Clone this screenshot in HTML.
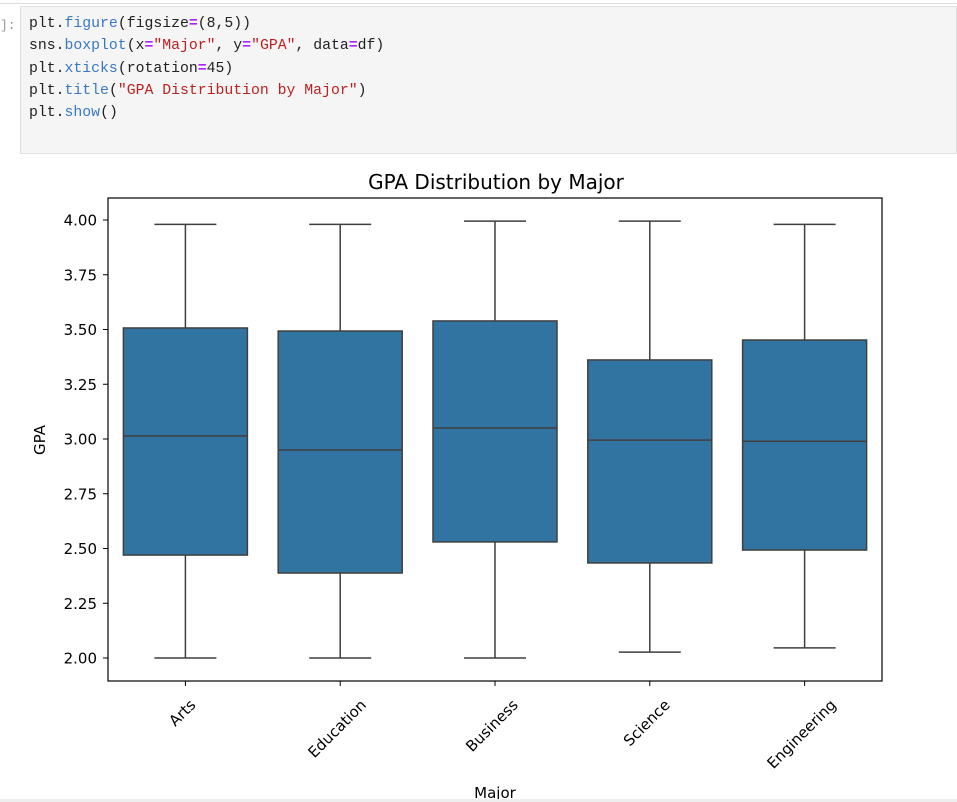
<!DOCTYPE html>
<html><head><meta charset="utf-8"><style>
body{margin:0;background:#fff;width:957px;height:802px;overflow:hidden;position:relative;font-family:"DejaVu Sans",sans-serif}
#topline{position:absolute;left:0;top:3px;width:957px;height:1px;background:#ddd}
#prompt{position:absolute;left:0;top:18px;font:13px "Liberation Mono",monospace;color:#999}
#cell{position:absolute;left:20px;top:6px;width:937px;height:148px;background:#f5f5f5;border:1px solid #e0e0e0;box-sizing:border-box}
#code{position:absolute;left:8px;top:6px;margin:0;font:14.8px/22.3px "Liberation Mono","DejaVu Sans Mono",monospace;color:#222}
.f{color:#3a78c2}.s{color:#ba2121}.o{color:#aa22ff;font-weight:bold}
#bottomline{position:absolute;left:0;top:799px;width:957px;height:3px;background:#eee}
svg{position:absolute;left:0;top:0}
svg text{font-family:"DejaVu Sans",sans-serif}
</style></head><body>
<div id="topline"></div>
<div id="prompt">]:</div>
<div id="cell"><pre id="code">plt.<span class="f">figure</span>(figsize<span class="o">=</span>(8,5))
sns.<span class="f">boxplot</span>(x<span class="o">=</span><span class="s">"Major"</span>, y<span class="o">=</span><span class="s">"GPA"</span>, data<span class="o">=</span>df)
plt.<span class="f">xticks</span>(rotation<span class="o">=</span>45)
plt.<span class="f">title</span>(<span class="s">"GPA Distribution by Major"</span>)
plt.<span class="f">show</span>()</pre></div>
<svg id="chart" width="957" height="802"></svg>
<div id="bottomline"></div>
<script>
const categories=["Arts","Education","Business","Science","Engineering"];
const whiskLow=[2.00,2.00,2.00,2.027,2.046];
const q1=[2.47,2.388,2.53,2.434,2.493];
const median=[3.014,2.95,3.05,2.995,2.99];
const q3=[3.507,3.493,3.539,3.361,3.452];
const whiskHigh=[3.98,3.98,3.995,3.995,3.98];
const yTicks=["2.00","2.25","2.50","2.75","3.00","3.25","3.50","3.75","4.00"];

const NS="http://www.w3.org/2000/svg";
const svg=document.getElementById('chart');
const L=108,R=882,T=198,B=681;
const y=v=>658-(v-2)*219;
const step=(R-L)/categories.length;
const x=i=>L+step*(i+0.5);
function mk(t,a,p){const e=document.createElementNS(NS,t);for(const k in a)e.setAttribute(k,a[k]);(p||svg).appendChild(e);return e;}
const c='#3f3f3f';
yTicks.forEach(t=>{const v=parseFloat(t),yy=y(v);
 const tk=mk('line',{x1:L-5,x2:L,y1:yy,y2:yy,stroke:'#000','stroke-width':1});
 
 
 const tx=mk('text',{x:L-11,y:yy+5.5,'text-anchor':'end','font-size':15,fill:'#000'});tx.textContent=t;
 
 
});
const bw=124;
categories.forEach((cat,i)=>{const cx=x(i);
 const g=mk('g',{});
 
 
 mk('line',{x1:cx,x2:cx,y1:y(whiskLow[i]),y2:y(q1[i]),stroke:c,'stroke-width':1.5},g);
 mk('line',{x1:cx,x2:cx,y1:y(q3[i]),y2:y(whiskHigh[i]),stroke:c,'stroke-width':1.5},g);
 mk('line',{x1:cx-bw/4,x2:cx+bw/4,y1:y(whiskLow[i]),y2:y(whiskLow[i]),stroke:c,'stroke-width':1.5},g);
 mk('line',{x1:cx-bw/4,x2:cx+bw/4,y1:y(whiskHigh[i]),y2:y(whiskHigh[i]),stroke:c,'stroke-width':1.5},g);
 mk('rect',{x:cx-bw/2,y:y(q3[i]),width:bw,height:y(q1[i])-y(q3[i]),fill:'#3274a1',stroke:c,'stroke-width':1.5},g);
 mk('line',{x1:cx-bw/2,x2:cx+bw/2,y1:y(median[i]),y2:y(median[i]),stroke:c,'stroke-width':1.5},g);
 const tk=mk('line',{x1:cx,x2:cx,y1:B,y2:B+5,stroke:'#000','stroke-width':1});
 
 
 const tx=mk('text',{x:0,y:0,'text-anchor':'middle','dominant-baseline':'central','font-size':15,fill:'#000'});tx.textContent=cat;
 
 
 const w=tx.getComputedTextLength(),h=15;
 const half=(w+h)/Math.SQRT2/2;
 tx.setAttribute('transform',`translate(${cx-3} ${B+16+half}) rotate(-45)`);
});
const fr=mk('rect',{x:L,y:T,width:R-L,height:B-T,fill:'none',stroke:'#000','stroke-width':1.2});


const ti=mk('text',{x:(L+R)/2+1,y:189,'text-anchor':'middle','font-size':20,fill:'#000'});ti.textContent='GPA Distribution by Major';


const yl=mk('text',{x:45,y:440,'text-anchor':'middle','font-size':15,fill:'#000',transform:'rotate(-90 45 440)'});yl.textContent='GPA';


const xl=mk('text',{x:495,y:798,'text-anchor':'middle','font-size':15,fill:'#000'});xl.textContent='Major';


</script>
</body></html>
